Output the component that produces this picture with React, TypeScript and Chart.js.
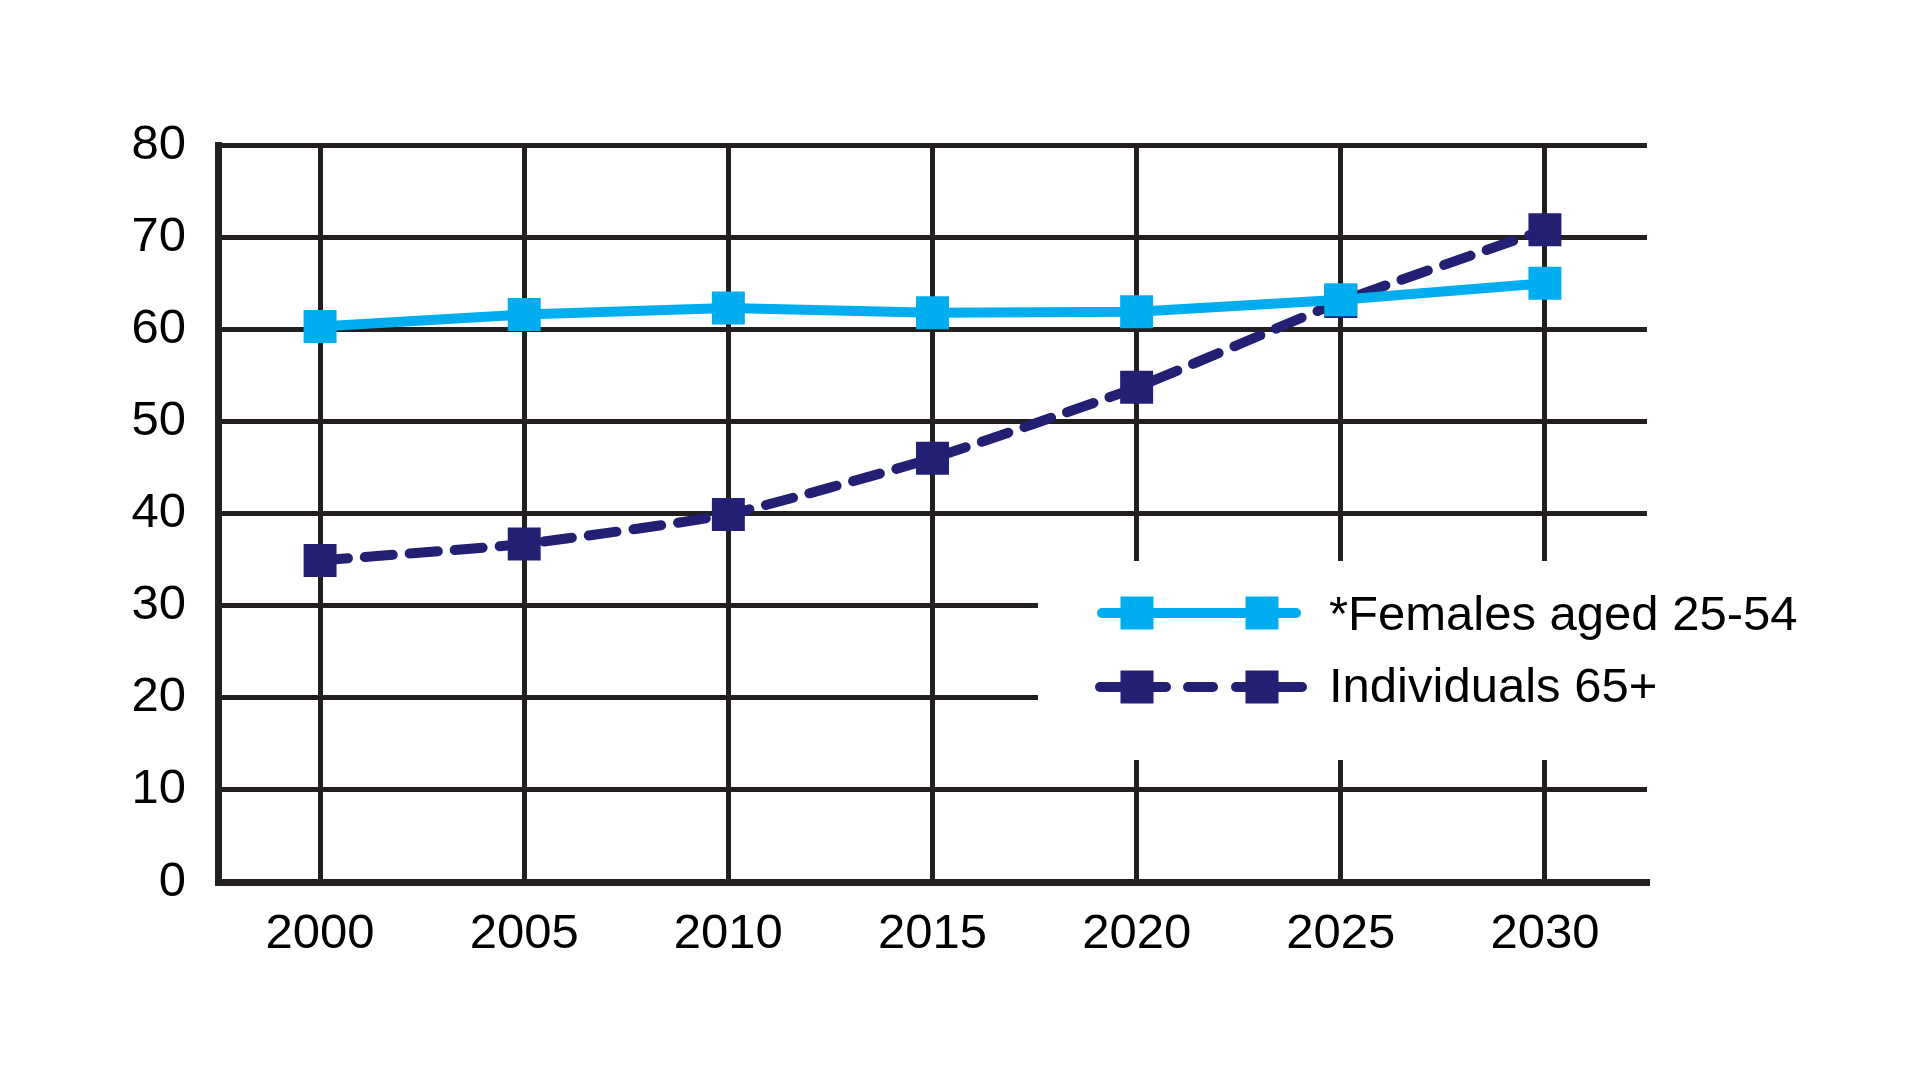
import React, { useEffect, useRef } from "react";
import { Chart, registerables } from "chart.js";

Chart.register(...registerables);

const years = ["2000", "2005", "2010", "2015", "2020", "2025", "2030"];
const females25to54 = [60.3, 61.6, 62.3, 61.8, 61.9, 63.2, 65.0];
const individuals65plus = [34.9, 36.7, 39.9, 46.0, 53.7, 63.0, 70.8];
const legendLabels = ["*Females aged 25-54", "Individuals 65+"];

const BLUE = "#00aeef";
const NAVY = "#231f73";
const GRID = "#231f20";
const FONT = "'Liberation Sans', Arial, sans-serif";
const FONT_SIZE = 49;

const legendPlugin = {
  id: "customLegend",
  afterDraw(chart: any) {
    const ctx = chart.ctx;
    ctx.save();
    ctx.fillStyle = "#ffffff";
    ctx.fillRect(1038, 561, 1920 - 1038, 760 - 561);

    const side = 33;
    // row 1
    const y1 = 613;
    ctx.strokeStyle = BLUE;
    ctx.lineWidth = 10;
    ctx.lineCap = "round";
    ctx.beginPath();
    ctx.moveTo(1102, y1);
    ctx.lineTo(1296, y1);
    ctx.stroke();
    ctx.fillStyle = BLUE;
    [1137, 1262].forEach((cx) => ctx.fillRect(cx - side / 2, y1 - side / 2, side, side));

    // row 2
    const y2 = 687;
    ctx.strokeStyle = NAVY;
    [[1100, 1166], [1188, 1213], [1236, 1302]].forEach(([a, b]) => {
      ctx.beginPath();
      ctx.moveTo(a, y2);
      ctx.lineTo(b, y2);
      ctx.stroke();
    });
    ctx.fillStyle = NAVY;
    [1137, 1262].forEach((cx) => ctx.fillRect(cx - side / 2, y2 - side / 2, side, side));

    ctx.fillStyle = "#000000";
    ctx.font = `${FONT_SIZE}px ${FONT}`;
    ctx.textBaseline = "middle";
    ctx.textAlign = "left";
    ctx.fillText(legendLabels[0], 1329, y1 + 3);
    ctx.fillText(legendLabels[1], 1329, y2 + 1);
    ctx.restore();
  },
};

export default function App() {
  const ref = useRef<HTMLCanvasElement>(null);
  useEffect(() => {
    const chart = new Chart(ref.current as HTMLCanvasElement, {
      type: "line",
      data: {
        labels: years,
        datasets: [
          {
            label: legendLabels[0],
            data: females25to54,
            borderColor: BLUE,
            backgroundColor: BLUE,
            borderWidth: 10,
            pointStyle: "rect",
            pointRadius: 23.3,
            pointBorderWidth: 0,
            pointBackgroundColor: BLUE,
            tension: 0,
          },
          {
            label: legendLabels[1],
            data: individuals65plus,
            borderColor: NAVY,
            backgroundColor: NAVY,
            borderWidth: 10,
            borderDash: [28, 17],
            borderCapStyle: "round",
            pointStyle: "rect",
            pointRadius: 23.3,
            pointBorderWidth: 0,
            pointBackgroundColor: NAVY,
            tension: 0.15,
          },
        ],
      },
      options: {
        animation: false,
        responsive: false,
        devicePixelRatio: 1,
        layout: { padding: { top: 145, right: 273, left: 0, bottom: 0 } },
        plugins: { legend: { display: false }, tooltip: { enabled: false } },
        scales: {
          x: {
            offset: true,
            grid: { offset: false, color: GRID, lineWidth: 5, drawTicks: false },
            border: { color: GRID, width: 7 },
            ticks: { color: "#000", font: { family: FONT, size: FONT_SIZE }, padding: 23 },
            afterFit(scale: any) {
              scale.height = 1080 - 882;
            },
          },
          y: {
            min: 0,
            max: 80,
            grid: { color: GRID, lineWidth: 5, drawTicks: false },
            border: { color: GRID, width: 7 },
            ticks: { stepSize: 10, color: "#000", font: { family: FONT, size: FONT_SIZE }, padding: 32 },
            afterFit(scale: any) {
              scale.width = 218;
            },
          },
        },
      },
      plugins: [legendPlugin],
    } as any);
    return () => chart.destroy();
  }, []);
  return (
    <div style={{ position: "absolute", left: 0, top: 0, width: 1920, height: 1080, background: "#fff" }}>
      <canvas ref={ref} width={1920} height={1080} style={{ width: 1920, height: 1080 }} />
    </div>
  );
}
